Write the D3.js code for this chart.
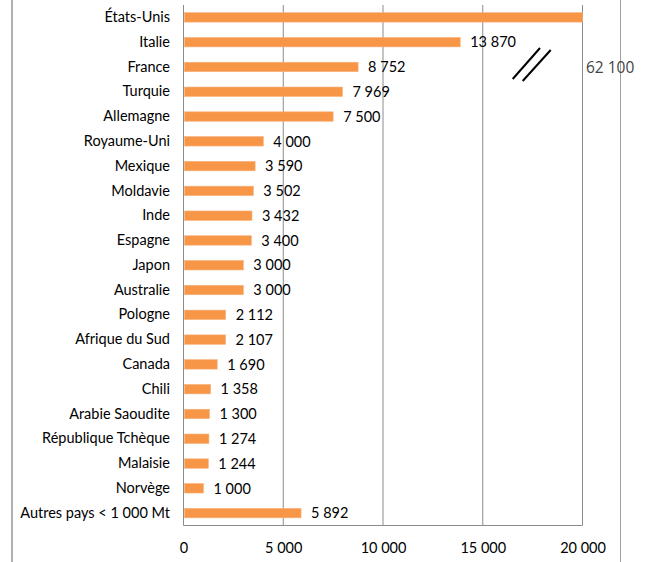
<!DOCTYPE html>
<html><head><meta charset="utf-8">
<script src="https://cdn.jsdelivr.net/npm/d3@7"></script>
<style>body{margin:0;background:#fff}svg{display:block}</style>
</head><body>
<svg id="c" width="646" height="562"></svg>
<script>
const categories = ["États-Unis","Italie","France","Turquie","Allemagne","Royaume-Uni","Mexique","Moldavie","Inde","Espagne","Japon","Australie","Pologne","Afrique du Sud","Canada","Chili","Arabie Saoudite","République Tchèque","Malaisie","Norvège","Autres pays < 1 000 Mt"];
const values = [62100,13870,8752,7969,7500,4000,3590,3502,3432,3400,3000,3000,2112,2107,1690,1358,1300,1274,1244,1000,5892];
const ticks = [0,5000,10000,15000,20000];
const tickLabels = ["0","5 000","10 000","15 000","20 000"];
const breakLabel = "62 100";

const svg = d3.select("#c");
const font = "Lato, 'Noto Sans', sans-serif";
const fs = 14.5;
const x = d3.scaleLinear().domain([0,20000]).range([183.5,582.5]);
const y = d3.scaleBand().domain(categories).range([5,525.5]).paddingInner(0.62).paddingOuter(0.31);
const fmt = v => d3.format(",")(v).replace(/,/g," ");
const rows = categories.map((c,i)=>({c, v: values[i]}));

// frame lines
svg.append("line").attr("x1",12).attr("x2",12).attr("y1",0).attr("y2",562).attr("stroke","#b0b0b0").attr("stroke-width",2);
svg.append("line").attr("x1",620.5).attr("x2",620.5).attr("y1",0).attr("y2",562).attr("stroke","#a0a0a0").attr("stroke-width",1);

// gridlines
svg.append("g").selectAll("line").data(ticks).join("line")
  .attr("x1",d=>x(d)).attr("x2",d=>x(d)).attr("y1",5).attr("y2",525.5)
  .attr("stroke","#8c8c8c").attr("stroke-width",1);
svg.append("line").attr("x1",x(0)).attr("x2",x(20000)).attr("y1",525.5).attr("y2",525.5).attr("stroke","#8c8c8c");

// x axis labels
const xa = svg.append("g").attr("transform","translate(0,548)")
  .call(d3.axisBottom(x).tickValues(ticks).tickFormat((d,i)=>tickLabels[i]).tickSize(0).tickPadding(0));
xa.select(".domain").remove();
xa.selectAll("text").attr("font-family",font).attr("font-size",fs).attr("fill","#000").attr("dy","0.32em").attr("y",0);

// y axis labels
const ya = svg.append("g").attr("transform","translate(170,0)")
  .call(d3.axisLeft(y).tickSize(0).tickPadding(0));
ya.select(".domain").remove();
ya.selectAll("text").attr("font-family",font).attr("font-size",fs).attr("fill","#000");

// bars
svg.append("g").selectAll("rect").data(rows).join("rect")
  .attr("x",x(0)+1).attr("y",d=>y(d.c))
  .attr("width",d=>x(Math.min(d.v,20000))-x(0)-1).attr("height",y.bandwidth())
  .attr("fill","#F79646").attr("stroke","#FAB07A").attr("stroke-width",0.6);

// value labels
svg.append("g").selectAll("text").data(rows.filter(d=>d.v<=20000)).join("text")
  .attr("x",d=>x(d.v)+10).attr("y",d=>y(d.c)+y.bandwidth()/2)
  .attr("dy","0.36em").attr("font-family",font).attr("font-size",fs).attr("fill","#000")
  .text(d=>fmt(d.v));

// break marks
svg.append("line").attr("x1",512.7).attr("y1",79).attr("x2",540).attr("y2",48).attr("stroke","#000").attr("stroke-width",2);
svg.append("line").attr("x1",522.7).attr("y1",81).attr("x2",550.7).attr("y2",50).attr("stroke","#000").attr("stroke-width",2);
svg.append("text").attr("x",586).attr("y",73).attr("font-family","'Open Sans', sans-serif").attr("font-size",15.5).attr("fill","#444").text(breakLabel);
</script>
</body></html>
